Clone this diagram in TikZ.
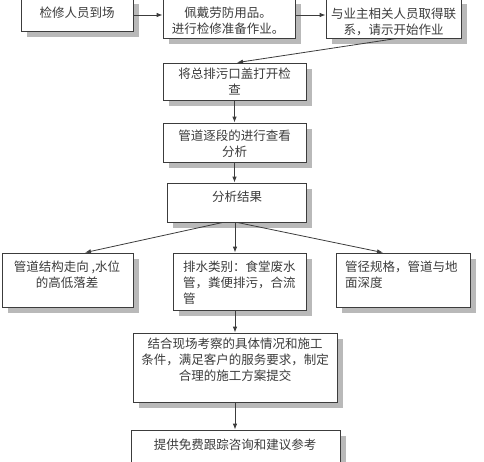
\documentclass[tikz,border=0pt]{standalone}
\usepackage{fontspec}
\newfontfamily\cjk{Noto Sans CJK SC}
\usetikzlibrary{arrows.meta}
\definecolor{shadowgray}{RGB}{185,185,185}
\definecolor{linegray}{RGB}{60,60,60}
\begin{document}
\begin{tikzpicture}[x=1pt,y=-1pt,
  box/.style={draw=linegray, line width=0.8pt, fill=white},
  shd/.style={fill=shadowgray, draw=none},
  txt/.style={inner sep=0pt, anchor=north, align=center, text=linegray,
     font=\cjk\fontsize{12.5}{16}\selectfont},
  ltxt/.style={txt, anchor=north west, align=left},
  arr/.style={draw=linegray, line width=0.8pt, -{Latex[length=6pt,width=4.5pt]}}]
\useasboundingbox (0,0) rectangle (484,461);
% boxes and their shadows
\foreach \nm/\xa/\ya/\xb/\yb in {b1/21/-2/133/31, b2/163/-2/295/38, b3/326/-2/461/38,
   b4/163/63/306/100, b5/163/123/306/162, b6/167/183/306/222,
   bL/2/253/133/307, bM/173/253/306/310, bR/336/253/470/307,
   b8/133/333/337/402, b9/131/430/340/462}{
  \node[box, inner sep=0pt, minimum width=\xb-\xa, minimum height=\yb-\ya]
     (\nm) at ({(\xa+\xb)/2},{(\ya+\yb)/2}) {};
  \path[shd] (\xb+0.5,\ya+6) rectangle (\xb+6,\yb+6);
  \path[shd] (\xa+6,\yb+0.5) rectangle (\xb+6,\yb+6);
}
% texts
\node[txt] (t1) at (77,7) {检修人员到场};
\node[txt] (t2) at (228,7) {佩戴劳防用品。\\进行检修准备作业。};
\node[txt] (t3) at (393.5,8) {与业主相关人员取得联\\系，请示开始作业};
\node[txt] (t4) at (234.5,68) {将总排污口盖打开检\\查};
\node[txt] (t5) at (234.5,130) {管道逐段的进行查看\\分析};
\node[txt] (t6) at (237,191) {分析结果};
\node[txt] (tL) at (67,261) {管道结构走向 ,水位\\的高低落差};
\node[ltxt] (tM) at (183,261) {排水类别：食堂废水\\管，粪便排污，合流\\管};
\node[ltxt] (tR) at (345,261) {管径规格，管道与地\\面深度};
\node[txt] (t8) at (235,338) {结合现场考察的具体情况和施工\\条件，满足客户的服务要求，制定\\合理的施工方案提交};
\node[txt] (t9) at (235,439) {提供免费跟踪咨询和建议参考};
% connectors
\draw[arr] (b1.east |- 0,15) -- (b2.west |- 0,15);
\draw[arr] (b2.east |- 0,15) -- (b3.west |- 0,15);
\draw[arr] ([xshift=3.5pt]b3.south) -- ([xshift=2.5pt]b4.north);
\draw[arr] (b4.south) -- (b5.north);
\draw[arr] (b5.south) -- (b5.south |- b6.north);
\draw[arr] ([xshift=-13.5pt]b6.south) -- ([xshift=17.5pt]bL.north);
\draw[arr] ([xshift=-1.5pt]b6.south) -- ([xshift=-1.5pt]b6.south |- bM.north);
\draw[arr] ([xshift=0.5pt]b6.south) -- ([xshift=-20pt]bR.north);
\draw[arr] (b8.north |- bM.south) -- (b8.north);
\draw[arr] (b8.south) -- (b8.south |- b9.north);
\end{tikzpicture}
\end{document}
